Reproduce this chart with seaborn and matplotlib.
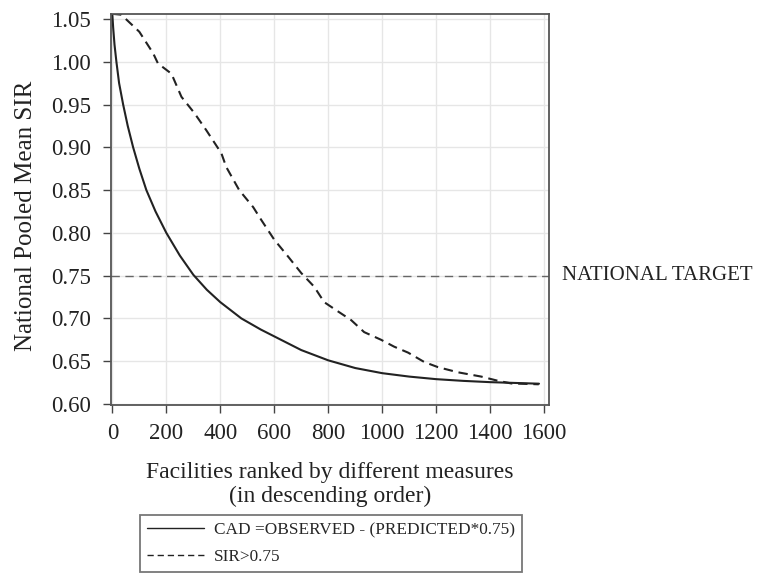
import numpy as np
import pandas as pd
import matplotlib
matplotlib.use("Agg")
import matplotlib.pyplot as plt
import seaborn as sns

# ---- data ----
cad_x = [0, 3, 8, 15, 25, 40, 57, 77, 100, 126, 160, 200, 250, 300, 350, 400,
         478, 550, 600, 700, 800, 900, 1000, 1100, 1200, 1300, 1400, 1500, 1581]
cad_y = [1.055, 1.04, 1.02, 1.00, 0.975, 0.95, 0.925, 0.90, 0.875, 0.85, 0.825,
         0.80, 0.7735, 0.751, 0.7335, 0.719, 0.70, 0.687, 0.679, 0.663, 0.651,
         0.642, 0.636, 0.632, 0.629, 0.627, 0.6255, 0.6245, 0.6237]

sir_x = [0, 33, 100, 151, 169, 219, 256, 304, 348, 404, 422, 470, 522, 552, 600,
         652, 700, 748, 785, 837, 885, 933, 996, 1044, 1096, 1156, 1207, 1281,
         1367, 1430, 1478, 1530, 1580]
sir_y = [1.056, 1.055, 1.035, 1.01, 0.998, 0.986, 0.959, 0.94, 0.92, 0.893,
         0.877, 0.85, 0.83, 0.815, 0.792, 0.772, 0.753, 0.737, 0.719, 0.708,
         0.698, 0.684, 0.675, 0.667, 0.66, 0.649, 0.643, 0.637, 0.632, 0.627,
         0.624, 0.6235, 0.623]

series_names = ["CAD =OBSERVED - (PREDICTED*0.75)", "SIR>0.75"]
national_target = 0.75
x_ticks = [0, 200, 400, 600, 800, 1000, 1200, 1400, 1600]
y_ticks = [0.60, 0.65, 0.70, 0.75, 0.80, 0.85, 0.90, 0.95, 1.00, 1.05]

df = pd.concat([
    pd.DataFrame({"rank": cad_x, "sir": cad_y, "measure": series_names[0]}),
    pd.DataFrame({"rank": sir_x, "sir": sir_y, "measure": series_names[1]}),
], ignore_index=True)

sns.set_theme(style="whitegrid")
plt.rcParams["font.family"] = ["Liberation Serif", "DejaVu Serif"]

fig = plt.figure(figsize=(7.58, 5.75), dpi=100)
ax = fig.add_axes([111/758, 1-405/575, (549-111)/758, (405-14)/575])

line_color = "#222222"
sns.lineplot(data=df, x="rank", y="sir", hue="measure", style="measure",
             palette=[line_color, line_color],
             dashes={series_names[0]: "", series_names[1]: (4.5, 2.8)},
             linewidth=1.5, ax=ax, legend=True, sort=False)

ax.axhline(national_target, color="#666666", linewidth=1.0, dashes=(6, 4), zorder=1)
ax.text(1.03, national_target, "NATIONAL TARGET", transform=ax.get_yaxis_transform(),
        va="center", ha="left", fontsize=15, color="#222222")

ax.set_xlim(-5, 1618)
ax.set_ylim(0.5988, 1.0558)
ax.set_xticks(x_ticks)
ax.set_yticks(y_ticks)
ax.set_yticklabels([f"{v:.2f}" for v in y_ticks])
ax.tick_params(axis="both", which="both", direction="out", length=5.5, width=1,
               color="#444444", labelsize=16.5, labelcolor="#222222", pad=7.5,
               bottom=True, left=True)
ax.tick_params(axis="y", pad=9)
ax.grid(True, color="#e6e6e6", linewidth=1.0)
for s in ax.spines.values():
    s.set_color("#555555")
    s.set_linewidth(1.3)

ax.set_xlabel("Facilities ranked by different measures\n(in descending order)",
              fontsize=17, color="#222222", linespacing=1.15)
ax.xaxis.set_label_coords(0.5, (405 - 462) / 391)
ax.set_ylabel("National Pooled Mean SIR", fontsize=18, color="#222222")
ax.yaxis.set_label_coords((37 - 111) / 438, (405 - 216) / 391)

leg = ax.get_legend()
handles = leg.legend_handles
leg.remove()
leg = fig.legend(handles=handles, labels=series_names, loc="upper center",
                 bbox_to_anchor=(331/758, 1-515/575), fontsize=12.4, frameon=True,
                 fancybox=False, edgecolor="#555555", handlelength=3.3,
                 borderpad=0.4, labelspacing=0.65, handletextpad=0.6,
                 borderaxespad=0)
leg.get_frame().set_linewidth(1.3)
for h in leg.get_lines():
    h.set_linewidth(1.0)

fig.savefig("out.png", dpi=100)
